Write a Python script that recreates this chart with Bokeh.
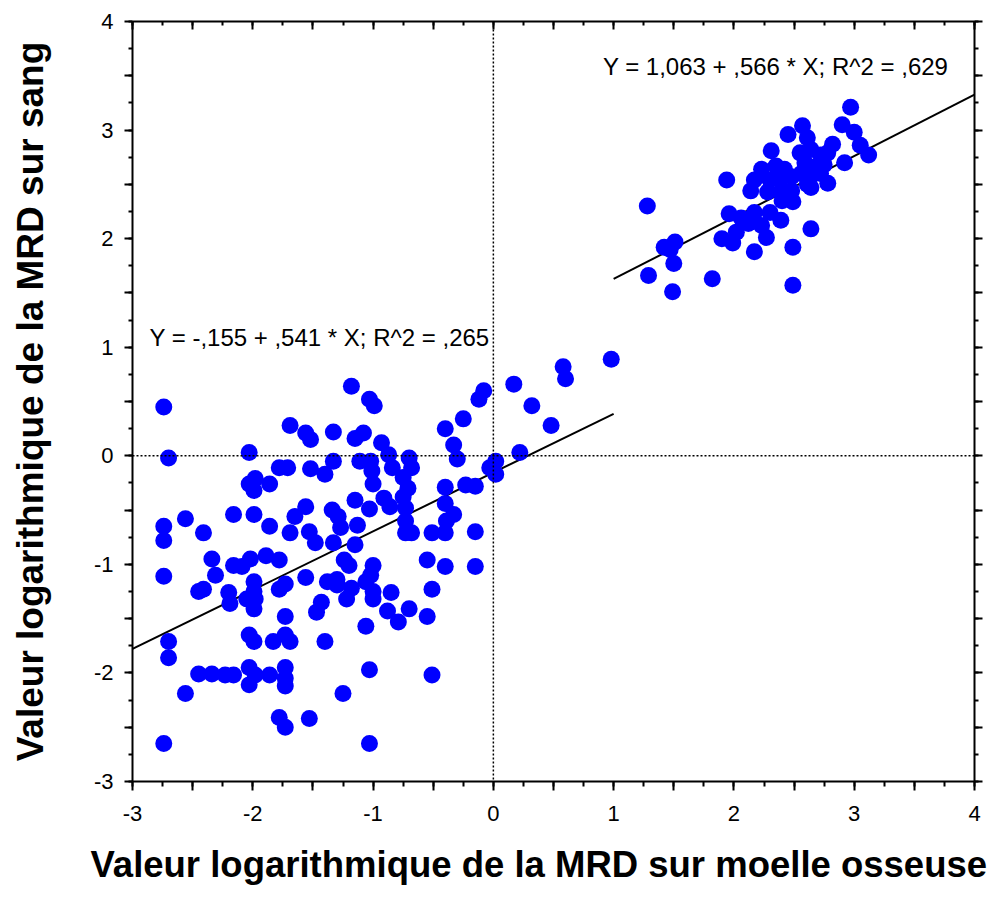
import math
from bokeh.plotting import figure
from bokeh.models import (LinearAxis, FixedTicker, CustomJSTickFormatter, Label, Span, Range1d, Title)
from bokeh.embed import file_html
from bokeh.resources import INLINE

# ---------------- data ----------------
# lower group (bone marrow MRD < 1 log)
x_low = [-2.74, -2.70, -1.18, -1.03, -0.99, 0.17, -0.08, -0.12, -0.25, -0.40,
         -0.33, -0.30, -1.69, -1.56, -1.52, -1.33, -1.15, -1.08, -0.93, -0.87,
         -2.03, -0.70, -0.84, -1.11, -1.02, -1.33, -1.40, -1.52, -1.78, -1.71,
         -2.03, -1.98, -1.99, -1.86, -1.01, -1.00, -0.68, -0.75, -0.71, -0.75,
         -0.40, -0.23, -0.15, -0.03, 0.02, 0.02, 0.22, -1.15, -0.91, -1.56,
         -1.34, -0.40, -0.86, -1.03, -0.73, -1.65, -1.29, -2.16, -1.99, -2.56,
         -0.33, -0.39, -2.74, -2.74, -2.41, -1.86, -1.69, -1.53, -1.48, -1.27,
         -1.13, -1.33, -1.15, -0.73, -0.68, -0.73, -0.51, -0.40, -0.15, -2.34,
         -2.31, -2.16, -2.09, -2.02, -1.89, -1.78, -2.74, -1.24, -1.20, -1.00,
         -1.02, -0.55, -0.40, -0.15, -1.56, -1.38, -1.30, -1.30, -1.99, -1.78,
         -1.73, -2.45, -2.41, -2.20, -2.19, -2.05, -1.99, -1.99, -1.98, -1.18,
         -1.22, -1.06, -1.00, -1.00, -0.85, -0.51, -0.88, -0.70, -0.79, -0.55,
         -1.43, -1.47, -1.73, -1.06, -2.70, -2.70, -2.03, -1.99, -1.83, -1.73,
         -1.69, -1.40, -2.45, -2.34, -2.23, -2.16, -2.03, -1.98, -2.03, -1.86,
         -1.73, -1.73, -1.73, -2.56, -1.25, -1.03, -0.51, -1.78, -1.73, -1.53,
         -2.74, -1.03, 0.98, 0.58, 0.60, 0.32, 0.48]
y_low = [0.45, -0.02, 0.64, 0.52, 0.46, 0.66, 0.60, 0.52, 0.34, 0.25,
         0.10, -0.03, 0.28, 0.21, 0.15, 0.22, 0.16, 0.21, 0.12, 0.01,
         0.03, -0.02, -0.11, -0.05, -0.05, -0.05, -0.17, -0.12, -0.11, -0.11,
         -0.26, -0.21, -0.32, -0.26, -0.14, -0.26, -0.11, -0.20, -0.30, -0.38,
         -0.29, -0.27, -0.28, -0.11, -0.05, -0.17, 0.03, -0.41, -0.39, -0.47,
         -0.50, -0.44, -0.47, -0.49, -0.48, -0.56, -0.56, -0.54, -0.54, -0.58,
         -0.54, -0.60, -0.65, -0.78, -0.71, -0.65, -0.71, -0.70, -0.80, -0.66,
         -0.64, -0.80, -0.82, -0.71, -0.71, -0.60, -0.71, -0.71, -0.70, -0.95,
         -1.10, -1.01, -1.02, -0.95, -0.92, -0.96, -1.11, -0.96, -1.01, -1.01,
         -1.10, -0.96, -1.02, -1.02, -1.12, -1.16, -1.14, -1.19, -1.16, -1.23,
         -1.18, -1.25, -1.23, -1.26, -1.36, -1.32, -1.25, -1.41, -1.32, -1.22,
         -1.32, -1.16, -1.25, -1.32, -1.26, -1.23, -1.43, -1.41, -1.53, -1.48,
         -1.35, -1.44, -1.48, -1.57, -1.71, -1.86, -1.65, -1.71, -1.71, -1.65,
         -1.71, -1.71, -2.01, -2.01, -2.02, -2.02, -1.95, -2.02, -2.11, -2.02,
         -1.95, -2.05, -2.12, -2.19, -2.19, -1.97, -2.02, -2.41, -2.50, -2.42,
         -2.65, -2.65, 0.89, 0.82, 0.71, 0.46, 0.28]

# upper group (bone marrow MRD >= 1 log)
x_high = [2.97, 2.90, 3.00, 3.05, 3.12, 2.57, 2.45, 2.61, 2.31, 2.82,
          2.55, 2.64, 2.72, 2.78, 2.92, 2.23, 2.35, 2.42, 2.59, 2.67,
          2.75, 2.56, 2.64, 2.72, 2.17, 2.30, 2.39, 2.48, 2.61, 2.78,
          2.64, 2.14, 2.28, 2.39, 2.48, 2.40, 2.49, 1.94, 1.28, 1.96,
          2.06, 2.17, 2.30, 2.39, 2.12, 2.23, 2.02, 1.90, 1.99, 2.27,
          2.64, 2.17, 2.49, 1.42, 1.51, 1.47, 1.50, 1.29, 1.82, 1.49,
          2.49]
y_high = [3.21, 3.05, 2.98, 2.86, 2.77, 3.04, 2.96, 2.93, 2.81, 2.87,
          2.79, 2.82, 2.77, 2.79, 2.70, 2.64, 2.67, 2.64, 2.70, 2.66,
          2.68, 2.60, 2.58, 2.60, 2.54, 2.54, 2.55, 2.57, 2.50, 2.51,
          2.47, 2.44, 2.43, 2.43, 2.44, 2.35, 2.34, 2.54, 2.30, 2.23,
          2.19, 2.24, 2.24, 2.17, 2.14, 2.12, 2.06, 2.00, 1.96, 2.01,
          2.09, 1.88, 1.92, 1.92, 1.97, 1.90, 1.77, 1.66, 1.63, 1.51,
          1.57]

# regression fits: Y = a + b * X over each group's x-extent
fit_intercept = [-0.155, 1.063]
fit_slope = [0.541, 0.566]
fit_x_from = [-3.0, 1.0]
fit_x_to = [1.0, 4.0]
fit_labels = ["Y = -,155 + ,541 * X; R^2 = ,265",
              "Y = 1,063 + ,566 * X; R^2 = ,629"]

x_title = "Valeur logarithmique de la MRD sur moelle osseuse"
y_title = "Valeur logarithmique de la MRD sur sang"

FONT = "Liberation Sans"

# ---------------- figure ----------------
p = figure(width=999, height=902, x_range=Range1d(-3, 4), y_range=Range1d(-3, 4),
           output_backend="svg", toolbar_location=None,
           x_axis_location=None, y_axis_location=None,
           min_border_left=132, min_border_right=25,
           min_border_top=21, min_border_bottom=121)
p.outline_line_color = None
p.grid.visible = False
p.background_fill_color = "white"
p.border_fill_color = "white"

major = [-3 + 0.5 * i for i in range(15)]
minor = [-3 + 0.25 * i for i in range(29)]

lab_fmt = CustomJSTickFormatter(code="""
const r = Math.round(tick);
if (Math.abs(tick - r) > 1e-6) { return ""; }
return String(r);
""")
blank_fmt = CustomJSTickFormatter(code="return '';")

def make_axis(fmt, tin, tout, mtin, mtout, standoff):
    return LinearAxis(ticker=FixedTicker(ticks=major, minor_ticks=minor),
                      formatter=fmt,
                      axis_line_width=2, axis_line_color="black",
                      major_tick_line_width=2, minor_tick_line_width=2,
                      major_tick_in=tin, major_tick_out=tout,
                      minor_tick_in=mtin, minor_tick_out=mtout,
                      major_label_text_font=FONT,
                      major_label_text_font_size="22px",
                      major_label_text_color="black",
                      major_label_standoff=standoff)

p.add_layout(make_axis(lab_fmt, 0, 9, 0, 5, 15), "below")
left_axis = make_axis(lab_fmt, 0, 8, 0, 4, 11)
left_axis.axis_label = y_title
left_axis.axis_label_standoff = 40
left_axis.axis_label_text_font = FONT
left_axis.axis_label_text_font_size = "37px"
left_axis.axis_label_text_font_style = "bold"
left_axis.axis_label_text_color = "black"
p.add_layout(left_axis, "left")
p.add_layout(make_axis(blank_fmt, 8, 0, 4, 0, 0), "above")
p.add_layout(make_axis(blank_fmt, 0, 8, 0, 4, 0), "right")

# x axis title
p.add_layout(Title(text=x_title, align="left", offset=-42, standoff=36,
                   text_font=FONT, text_font_size="36.5px", text_font_style="bold",
                   text_color="black"), "below")

# dotted reference lines at 0
p.add_layout(Span(location=0, dimension="width", line_color="black",
                  line_dash="2 2", line_width=1.5))
p.add_layout(Span(location=0, dimension="height", line_color="black",
                  line_dash="2 2", line_width=1.5))

# regression lines
for a, b, x0, x1 in zip(fit_intercept, fit_slope, fit_x_from, fit_x_to):
    p.line([x0, x1], [a + b * x0, a + b * x1], line_color="black", line_width=2)

# points
p.scatter(x_low, y_low, size=17, fill_color="#0000FF", line_color=None)
p.scatter(x_high, y_high, size=17, fill_color="#0000FF", line_color=None)

# fit annotations
p.add_layout(Label(x=-2.859, y=1.086, text=fit_labels[0], text_font=FONT,
                   text_font_size="24px", text_align="left",
                   text_baseline="alphabetic", text_color="black"))
p.add_layout(Label(x=3.783, y=3.585, text=fit_labels[1], text_font=FONT,
                   text_font_size="24px", text_align="right",
                   text_baseline="alphabetic", text_color="black"))

open("out.html", "w").write(file_html(p, INLINE))
